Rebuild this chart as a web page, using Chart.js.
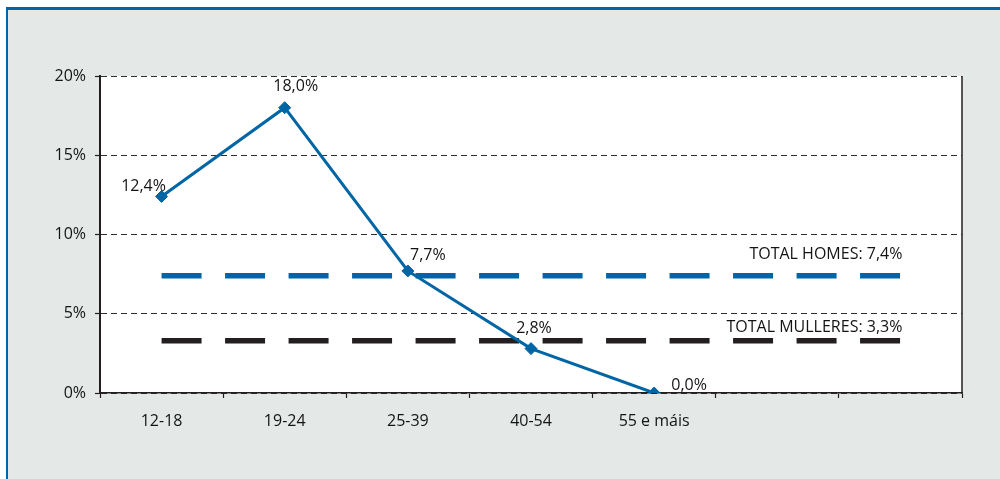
<!DOCTYPE html>
<html>
<head>
<meta charset="utf-8">
<script src="https://cdn.jsdelivr.net/npm/chart.js@4/dist/chart.umd.min.js"></script>
<style>
  html, body { margin: 0; padding: 0; background: #ffffff; }
  #frame {
    position: absolute; left: 6px; top: 7px; right: 0; bottom: 0;
    background: #e4e8e7;
    border-top: 3px solid #0065a5;
    border-left: 2px solid #0065a5;
  }
  #wrap { position: absolute; left: 0; top: 0; width: 1000px; height: 479px; }
</style>
</head>
<body>
<div id="frame"></div>
<div id="wrap"><canvas id="c" width="1000" height="479"></canvas></div>
<script>
// Age groups (the last two slots are empty on the axis)
const categories = ['12-18', '19-24', '25-39', '40-54', '55 e máis', '', ''];
// Share by age group, %
const ageValues = [12.4, 18.0, 7.7, 2.8, 0.0, null, null];
// Overall totals, %
const totalHomes = 7.4;
const totalMulleres = 3.3;
const totalLabels = ['TOTAL HOMES', 'TOTAL MULLERES'];
// Y axis ticks, %
const yTicks = [0, 5, 10, 15, 20];

const BLUE = '#0065a5';
const DARK = '#231f20';
const TEXT = '#141414';
const FONT = '"Open Sans", "Noto Sans", sans-serif';
const FONT_SIZE = 16;

const fmt = v => v.toFixed(1).replace('.', ',') + '%';

const frameBg = {
  id: 'frameBg',
  beforeDraw(chart) {
    const { ctx, chartArea: a } = chart;
    ctx.save();
    ctx.fillStyle = '#ffffff';
    ctx.fillRect(a.left, a.top, a.right - a.left, a.bottom - a.top);
    ctx.restore();
  },
  afterDraw(chart) {
    const { ctx, chartArea: a } = chart;
    ctx.save();
    ctx.strokeStyle = DARK;
    ctx.lineWidth = 1.5;
    ctx.beginPath();
    ctx.moveTo(a.right, a.top);
    ctx.lineTo(a.right, a.bottom);
    ctx.stroke();
    ctx.restore();
  }
};

// Value labels next to the age-group points and captions over the total lines
const valueLabels = {
  id: 'valueLabels',
  afterDatasetsDraw(chart, args, opts) {
    const { ctx } = chart;
    ctx.save();
    ctx.font = FONT_SIZE + 'px ' + FONT;
    ctx.fillStyle = TEXT;
    ctx.textBaseline = 'middle';
    ctx.textAlign = 'center';
    const meta = chart.getDatasetMeta(0);
    meta.data.forEach((pt, i) => {
      const v = ageValues[i];
      if (v === null || v === undefined) return;
      const off = opts.offsets[i] || [0, -18];
      ctx.fillText(fmt(v), pt.x + off[0], pt.y + off[1]);
    });
    ctx.textAlign = 'right';
    [1, 2].forEach((di, k) => {
      const m = chart.getDatasetMeta(di);
      const last = m.data[m.data.length - 1];
      const v = chart.data.datasets[di].data[0];
      ctx.fillText(totalLabels[k] + ': ' + fmt(v), last.x + 2, last.y + opts.totalOffsets[k]);
    });
    ctx.restore();
  }
};

new Chart(document.getElementById('c'), {
  type: 'line',
  data: {
    labels: categories,
    datasets: [
      {
        data: ageValues,
        borderColor: BLUE,
        backgroundColor: BLUE,
        borderWidth: 3,
        pointStyle: 'rectRot',
        pointRadius: 6,
        pointBorderWidth: 1,
        pointBackgroundColor: BLUE,
        pointBorderColor: BLUE,
        tension: 0,
        spanGaps: false,
        order: 0
      },
      {
        data: categories.map(() => totalHomes),
        borderColor: BLUE,
        borderWidth: 5.5,
        borderDash: [40, 23.5],
        borderCapStyle: 'butt',
        pointRadius: 0,
        order: 2
      },
      {
        data: categories.map(() => totalMulleres),
        borderColor: DARK,
        borderWidth: 5.5,
        borderDash: [40, 23.5],
        borderCapStyle: 'butt',
        pointRadius: 0,
        order: 1
      }
    ]
  },
  options: {
    responsive: false,
    animation: false,
    devicePixelRatio: 1,
    layout: { padding: { left: 0, top: 76, right: 38, bottom: 0 } },
    plugins: {
      legend: { display: false },
      tooltip: { enabled: false },
      valueLabels: {
        offsets: [[-18, -10], [11, -21], [20, -16], [3, -20], [35, -8]],
        totalOffsets: [-21, -13]
      }
    },
    scales: {
      x: {
        offset: true,
        afterFit: s => { s.height = 86; },
        grid: {
          offset: true,
          drawOnChartArea: false,
          drawTicks: true,
          tickLength: 5,
          tickColor: DARK,
          tickWidth: 1.2
        },
        border: { display: true, color: DARK, width: 1.5 },
        ticks: {
          color: TEXT,
          font: { family: FONT, size: FONT_SIZE },
          padding: 14,
          maxRotation: 0,
          autoSkip: false
        }
      },
      y: {
        min: 0,
        max: 20,
        afterFit: s => { s.width = 100; },
        afterBuildTicks: s => { s.ticks = yTicks.map(v => ({ value: v })); },
        grid: {
          color: '#2e2e2e',
          lineWidth: 1,
          tickBorderDash: [],
          tickLength: 5,
          tickColor: DARK,
          tickWidth: 1.2
        },
        border: { display: true, color: DARK, width: 2, dash: [6, 4] },
        ticks: {
          color: TEXT,
          font: { family: FONT, size: FONT_SIZE },
          padding: 9,
          callback: v => v + '%'
        }
      }
    }
  },
  plugins: [frameBg, valueLabels]
});
</script>
</body>
</html>
